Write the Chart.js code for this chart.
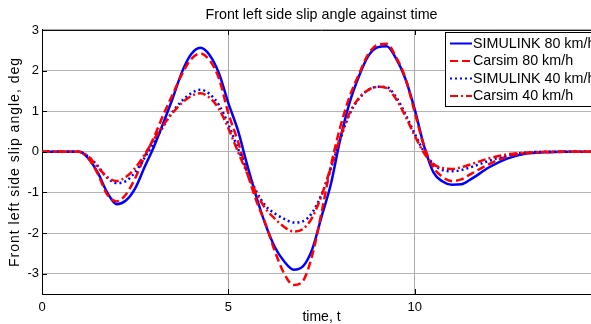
<!DOCTYPE html>
<html>
<head>
<meta charset="utf-8">
<script src="https://cdn.jsdelivr.net/npm/chart.js@4/dist/chart.umd.min.js"></script>
<style>
  html, body { margin: 0; padding: 0; background: #fff; overflow: hidden; }
  #wrap { position: absolute; left: 0; top: 0; width: 601px; height: 324px; }
</style>
</head>
<body>
<div id="wrap"><canvas id="chart" width="601" height="324"></canvas></div>
<script>
// tiempo (s) y ángulo de deriva (deg), leídos a ojo de la figura
const time = [0, 1, 1.25, 1.5, 1.75, 2, 2.25, 2.5, 2.75, 3, 3.25, 3.5, 3.75, 4, 4.25, 4.5, 4.75, 5,
  5.25, 5.5, 5.75, 6, 6.25, 6.5, 6.75, 7, 7.25, 7.5, 7.75, 8, 8.25, 8.5, 8.75, 9,
  9.25, 9.5, 9.75, 10, 10.25, 10.5, 10.75, 11, 11.25, 11.5, 12, 12.5, 13, 13.5, 14, 15];
const simulink80 = [0, 0, -0.17, -0.52, -1.0, -1.29, -1.2, -0.9, -0.38, 0.12, 0.7, 1.3, 1.95, 2.4, 2.56, 2.38, 1.93, 1.2,
  0.55, -0.3, -1.1, -1.8, -2.35, -2.7, -2.9, -2.82, -2.4, -1.6, -0.8, 0.3, 1.2, 1.85, 2.35, 2.57,
  2.6, 2.3, 1.8, 1.05, 0.15, -0.5, -0.73, -0.81, -0.8, -0.68, -0.38, -0.16, -0.04, -0.01, 0, 0];
const carsim80 = [0, 0, -0.17, -0.55, -1.05, -1.22, -1.05, -0.65, -0.12, 0.35, 0.9, 1.4, 1.9, 2.28, 2.42, 2.25, 1.8, 0.95,
  0.28, -0.5, -1.2, -1.78, -2.45, -3.0, -3.28, -3.18, -2.55, -1.5, -0.35, 0.6, 1.35, 1.9, 2.4, 2.63,
  2.66, 2.33, 1.82, 0.98, 0.15, -0.38, -0.62, -0.72, -0.68, -0.55, -0.3, -0.11, -0.03, -0.01, 0, 0];
const simulink40 = [0, 0, -0.12, -0.35, -0.64, -0.77, -0.72, -0.5, -0.15, 0.22, 0.62, 0.98, 1.25, 1.44, 1.53, 1.42, 1.15, 0.68,
  0.1, -0.45, -0.97, -1.33, -1.52, -1.65, -1.74, -1.71, -1.5, -1.05, -0.42, 0.3, 0.92, 1.3, 1.52, 1.6,
  1.59, 1.35, 0.93, 0.45, 0.0, -0.3, -0.45, -0.48, -0.45, -0.38, -0.22, -0.08, -0.02, 0, 0, 0];
const carsim40 = [0, 0, -0.12, -0.38, -0.62, -0.72, -0.62, -0.4, -0.07, 0.3, 0.65, 0.95, 1.2, 1.37, 1.44, 1.33, 1.05, 0.58,
  0.02, -0.52, -1.02, -1.4, -1.65, -1.85, -1.96, -1.9, -1.62, -1.08, -0.38, 0.35, 0.95, 1.32, 1.52, 1.6,
  1.57, 1.3, 0.88, 0.4, -0.03, -0.3, -0.4, -0.42, -0.38, -0.31, -0.16, -0.06, -0.02, 0, 0, 0];
const seriesNames = ['SIMULINK 80 km/h', 'Carsim 80 km/h', 'SIMULINK 40 km/h', 'Carsim 40 km/h'];
const xTicks = [0, 5, 10];
const yTicks = [-3, -2, -1, 0, 1, 2, 3];
const yTitle = 'Front left side slip angle, deg';

const FONT = "'Liberation Sans', Arial, sans-serif";
const BLUE = '#0000ff', RED = '#ff0000';
const styles = [
  {color: BLUE, dash: []},
  {color: RED, dash: [8, 4]},
  {color: BLUE, dash: [2, 3]},
  {color: RED, dash: [8, 3, 2, 3]}
];
const values = [simulink80, carsim80, simulink40, carsim40];

function pts(arr) { return time.map((t, i) => ({x: t, y: arr[i]})); }

// marco de ejes estilo MATLAB + leyenda en la esquina + título del eje y
const frame = {
  id: 'frame',
  afterDatasetsDraw(chart) {
    const {ctx, chartArea: a, scales: {x, y}} = chart;
    ctx.save();
    ctx.strokeStyle = '#000';
    ctx.lineWidth = 1;
    ctx.setLineDash([]);
    ctx.beginPath();
    ctx.moveTo(a.left, a.top + 0.5); ctx.lineTo(a.right, a.top + 0.5);
    xTicks.forEach(v => {
      const px = Math.round(x.getPixelForValue(v)) + 0.5;
      ctx.moveTo(px, a.bottom); ctx.lineTo(px, a.bottom - 5);
      ctx.moveTo(px, a.top); ctx.lineTo(px, a.top + 5);
    });
    yTicks.forEach(v => {
      const py = Math.round(y.getPixelForValue(v)) + 0.5;
      ctx.moveTo(a.left, py); ctx.lineTo(a.left + 5, py);
    });
    ctx.stroke();

    // título del eje y (con algo de espaciado, como en la figura)
    ctx.save();
    ctx.translate(15.5, (a.top + a.bottom) / 2);
    ctx.rotate(-Math.PI / 2);
    ctx.font = '14px ' + FONT;
    ctx.letterSpacing = '1px';
    ctx.fillStyle = '#000';
    ctx.textAlign = 'center';
    ctx.textBaseline = 'middle';
    ctx.fillText(yTitle, 0, 0);
    ctx.restore();

    // leyenda
    const bx = 445.5, by = 32.5, bw = 152, bh = 74;
    ctx.fillStyle = '#fff';
    ctx.fillRect(bx, by, bw, bh);
    ctx.strokeRect(bx, by, bw, bh);
    const rows = [43.5, 61, 78.5, 96];
    ctx.font = '14.3px ' + FONT;
    ctx.textBaseline = 'middle';
    seriesNames.forEach((name, i) => {
      ctx.strokeStyle = styles[i].color;
      ctx.lineWidth = 2;
      ctx.setLineDash(styles[i].dash);
      ctx.beginPath();
      ctx.moveTo(450, rows[i]); ctx.lineTo(472, rows[i]);
      ctx.stroke();
      ctx.fillStyle = '#000';
      ctx.fillText(name, 473, rows[i] + 0.5);
    });
    ctx.restore();
  }
};

new Chart(document.getElementById('chart').getContext('2d'), {
  type: 'line',
  data: {
    datasets: values.map((arr, i) => ({
      label: seriesNames[i],
      data: pts(arr),
      borderColor: styles[i].color,
      borderDash: styles[i].dash,
      borderWidth: 2.5,
      pointRadius: 0,
      fill: false,
      cubicInterpolationMode: 'monotone',
      order: 4 - i
    }))
  },
  options: {
    responsive: false,
    animation: false,
    layout: {padding: 0},
    plugins: {
      legend: {display: false},
      tooltip: {enabled: false},
      title: {
        display: true,
        fullSize: false,
        text: 'Front left side slip angle against time',
        color: '#000',
        font: {family: FONT, size: 14.3, weight: 'normal', lineHeight: 1.2},
        padding: {top: 6, bottom: 6.8}
      }
    },
    scales: {
      x: {
        type: 'linear', min: 0, max: 15,
        afterBuildTicks: s => { s.ticks = xTicks.map(v => ({value: v})); },
        afterFit: s => { s.height = 30; },
        grid: {color: '#a8a8a8', lineWidth: 1, drawTicks: false},
        border: {display: true, color: '#000', width: 1},
        ticks: {color: '#000', font: {family: FONT, size: 13}, padding: 6, maxRotation: 0},
        title: {display: true, text: 'time, t', color: '#000',
          font: {family: FONT, size: 14, lineHeight: 1}, padding: 0}
      },
      y: {
        min: -3.5, max: 3,
        afterBuildTicks: s => { s.ticks = yTicks.map(v => ({value: v})); },
        afterFit: s => { s.width = 42; },
        grid: {color: '#b4b4b4', lineWidth: 1, drawTicks: false},
        border: {display: true, color: '#000', width: 1},
        ticks: {color: '#000', font: {family: FONT, size: 13}, padding: 3},
        title: {display: false}
      }
    }
  },
  plugins: [frame]
});
</script>
</body>
</html>
